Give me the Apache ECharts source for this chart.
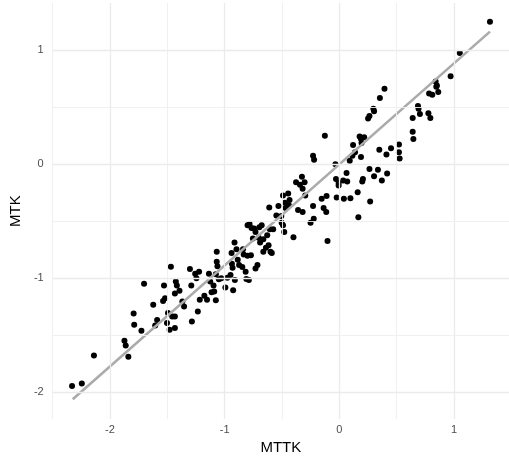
<!DOCTYPE html>
<html>
<head>
<meta charset="utf-8">
<script src="https://cdn.jsdelivr.net/npm/echarts@6/dist/echarts.min.js"></script>
<style>
html,body{margin:0;padding:0;background:#fff;}
#chart{width:509px;height:460px;}
</style>
</head>
<body>
<div id="chart"></div>
<script>
// MTTK (x) values
const mttk = [
-2.331,-2.246,-2.140,-1.874,-1.863,-1.840,-1.794,-1.789,-1.726,-1.703,
-1.623,-1.606,-1.589,-1.529,-1.537,-1.520,-1.503,-1.494,-1.480,-1.469,
-1.457,-1.434,-1.434,-1.426,-1.417,-1.434,-1.394,-1.369,-1.354,-1.303,
-1.291,-1.286,-1.257,-1.246,-1.234,-1.223,-1.217,-1.177,-1.154,-1.137,
-1.126,-1.114,-1.091,-1.097,-1.077,-1.069,-1.069,-1.063,-1.051,-1.029,
-0.994,-0.977,-0.949,-0.940,-0.937,-0.931,-0.926,-0.914,-0.911,-0.897,
-0.886,-0.874,-0.846,-0.840,-0.817,-0.811,-0.789,-0.800,-0.771,-0.800,
-0.783,-0.766,-0.743,-0.754,-0.731,-0.714,-0.731,-0.697,-0.703,-0.691,
-0.663,-0.640,-0.663,-0.629,-0.617,-0.611,-0.606,-0.600,-0.589,-0.577,
-0.549,-0.531,-0.503,-0.491,-0.491,-0.480,-0.474,-0.469,-0.446,-0.434,
-0.440,-0.400,-0.377,-0.360,-0.343,-0.326,-0.320,-0.303,-0.320,-0.251,
-0.229,-0.220,-0.223,-0.229,-0.154,-0.137,-0.114,-0.126,-0.111,-0.103,
-0.034,-0.029,-0.006,-0.006,-0.023,0.034,0.040,0.063,0.069,0.091,
0.097,0.120,0.137,0.160,0.166,0.177,0.189,0.189,0.200,0.206,
0.217,0.251,0.263,0.263,0.269,0.297,0.303,0.303,0.337,0.349,
0.354,0.371,0.394,0.411,0.417,0.451,0.520,0.520,0.526,0.640,
0.640,0.646,0.686,0.691,0.703,0.777,0.794,0.783,0.811,0.840,
0.851,0.863,0.971,1.051,1.314,
0.194,0.114,-0.297,-0.506,0.846,-1.077,-0.677,-0.834
];
// MTK (y) values
const mtk = [
-1.945,-1.922,-1.677,-1.547,-1.590,-1.689,-1.308,-1.407,-1.459,-1.047,
-1.233,-1.413,-1.366,-1.064,-1.198,-1.174,-1.392,-1.305,-1.451,-0.898,
-1.334,-1.334,-1.436,-1.029,-1.064,-1.134,-1.110,-1.203,-1.247,-0.919,
-1.064,-1.378,-0.959,-1.000,-1.291,-0.942,-1.189,-1.154,-1.189,-0.959,
-1.029,-1.122,-1.116,-1.064,-1.192,-0.767,-0.855,-0.895,-1.009,-1.000,
-1.081,-0.994,-0.971,-0.779,-0.872,-0.907,-1.105,-0.686,-1.015,-0.744,
-0.837,-0.884,-0.901,-0.744,-0.942,-1.006,-1.015,-0.802,-0.797,-0.535,
-0.523,-0.558,-0.564,-0.651,-0.913,-0.884,-0.593,-0.552,-0.645,-0.686,
-0.767,-0.733,-0.657,-0.622,-0.709,-0.378,-0.570,-0.767,-0.779,-0.570,
-0.448,-0.366,-0.512,-0.535,-0.273,-0.593,-0.337,-0.384,-0.256,-0.314,
-0.360,-0.640,-0.157,-0.401,-0.180,-0.110,-0.215,-0.157,-0.419,-0.512,
0.076,0.041,-0.477,-0.366,-0.302,-0.384,-0.419,0.250,-0.279,-0.672,
0.000,-0.128,-0.163,-0.186,-0.291,-0.142,-0.302,-0.076,-0.151,0.032,
-0.297,0.169,0.105,-0.244,-0.465,0.244,0.221,0.064,-0.151,-0.128,
0.238,0.401,0.424,-0.041,-0.326,0.488,0.465,-0.105,-0.047,0.128,
0.581,-0.142,0.663,0.087,-0.081,0.140,0.174,0.105,0.052,0.407,
0.285,0.221,0.512,0.488,0.442,0.448,0.407,0.622,0.610,0.727,
0.692,0.634,0.773,0.977,1.250,
0.186,0.076,-0.273,-0.453,0.680,-0.965,-0.535,-0.791
];
// fitted line
const fitX = [-2.325, 1.314];
const fitY = [-2.060, 1.164];
// ticks / gridlines
const xMajor = [-2, -1, 0, 1];
const xMinor = [-2.5, -1.5, -0.5, 0.5];
const yMajor = [-2, -1, 0, 1];
const yMinor = [-1.5, -0.5, 0.5];
const xLabels = ['-2', '-1', '0', '1'];
const yLabels = ['-2', '-1', '0', '1'];

const points = mttk.map((v, i) => [v, mtk[i]]);
const fitLine = fitX.map((v, i) => [v, fitY[i]]);

const majorStyle = { color: '#EBEBEB', width: 1.3, type: 'solid' };
const minorStyle = { color: '#EEEEEE', width: 0.9, type: 'solid' };
const gridData = [].concat(
  xMajor.map(v => ({ xAxis: v, lineStyle: majorStyle })),
  xMinor.map(v => ({ xAxis: v, lineStyle: minorStyle })),
  yMajor.map(v => ({ yAxis: v, lineStyle: majorStyle })),
  yMinor.map(v => ({ yAxis: v, lineStyle: minorStyle }))
);

const chart = echarts.init(document.getElementById('chart'), null, { renderer: 'canvas' });
const font = 'Liberation Sans';
chart.setOption({
  animation: false,
  backgroundColor: '#ffffff',
  textStyle: { fontFamily: font },
  grid: { left: 52.3, top: 3, width: 464.4, height: 418.7, containLabel: false },
  xAxis: {
    type: 'value', min: -2.5, max: 1.48,
    axisLine: { show: false }, axisTick: { show: false }, splitLine: { show: false },
    axisLabel: {
      customValues: xMajor, color: '#4D4D4D', fontSize: 11, margin: 5, fontFamily: font,
      formatter: v => xLabels[xMajor.indexOf(Math.round(v))] ?? ''
    },
    name: 'MTTK', nameLocation: 'middle', nameGap: 18,
    nameTextStyle: { color: '#000', fontSize: 15, fontFamily: font }
  },
  yAxis: {
    type: 'value', min: -2.235, max: 1.415,
    axisLine: { show: false }, axisTick: { show: false }, splitLine: { show: false },
    axisLabel: {
      customValues: yMajor, color: '#4D4D4D', fontSize: 11, margin: 9, fontFamily: font,
      formatter: v => yLabels[yMajor.indexOf(Math.round(v))] ?? ''
    },
    name: 'MTK', nameLocation: 'middle', nameGap: 25,
    nameTextStyle: { color: '#000', fontSize: 15, fontFamily: font }
  },
  series: [
    {
      type: 'line', data: [], z: 1, silent: true,
      markLine: { silent: true, symbol: 'none', label: { show: false }, animation: false, data: gridData }
    },
    {
      type: 'scatter', data: points, z: 3, symbol: 'circle', symbolSize: 6,
      itemStyle: { color: '#000000', opacity: 1, borderWidth: 0 }, silent: true, large: false
    },
    {
      type: 'line', data: fitLine, z: 4, showSymbol: false, symbol: 'none', silent: true,
      lineStyle: { color: '#ABABAB', width: 2.6 }
    }
  ]
});
</script>
</body>
</html>
